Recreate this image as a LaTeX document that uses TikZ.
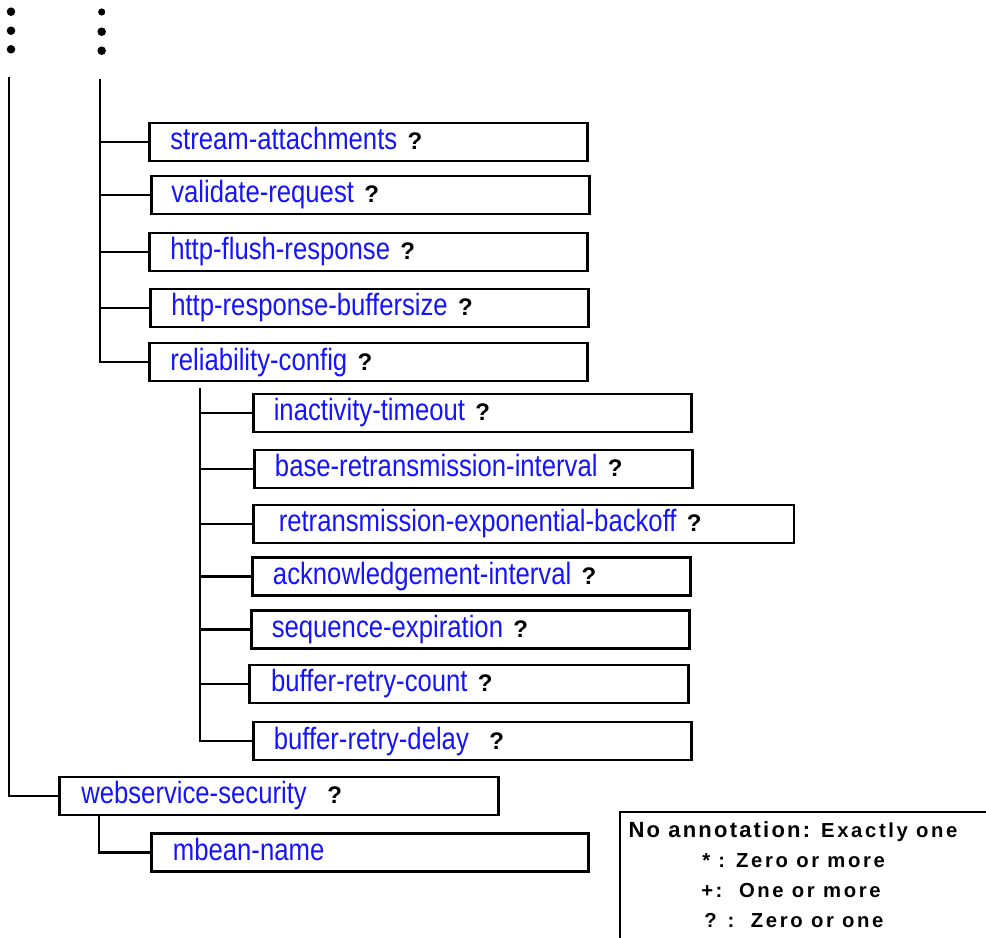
\documentclass[tikz,border=0pt]{standalone}
\usepackage{fontspec}
\setmainfont{Liberation Sans}
\newfontfamily\condfont[FakeStretch=0.834]{Liberation Sans}
\newfontfamily\legfont[LetterSpace=10]{Liberation Sans}
\newfontfamily\legwidefont[LetterSpace=13]{Liberation Sans}
\definecolor{elemblue}{RGB}{20,20,255}
% bold occurrence marker after an element name
\newcommand\optmark{{\color{black}\rmfamily\bfseries\fontsize{18pt}{18pt}\selectfont ?}}
\newcommand\legbig{\legfont\bfseries\fontsize{16.5pt}{18pt}\selectfont}
\newcommand\legsize{\legwidefont\bfseries\fontsize{15.2pt}{18pt}\selectfont}

\tikzset{
  box/.style={draw=black, line width=1.9pt, rectangle, minimum height=28.5pt,
    inner ysep=0pt, align=left, text=elemblue,
    font=\condfont\fontsize{23.1pt}{26pt}\selectfont,
    text height=15pt, text depth=3.3pt},
  conn/.style={draw=black, line width=1.9pt},
  legtext/.style={anchor=base west, inner sep=0pt, text=black, font=\legsize},
}

% element box: name, left x, centre y, right x, text start x, label
\newcommand\elemnode[6]{%
  \pgfmathsetmacro\elemw{(#4-#2-2*(#5-#2))*0.75}%
  \pgfmathsetmacro\elems{(#5-#2)*0.75}%
  \node[box, inner xsep=\elems pt, text width=\elemw pt, anchor=west] (#1) at (#2,#3) {#6};}

\begin{document}
\begin{tikzpicture}[x=0.75pt, y=-0.75pt]
\path[use as bounding box] (0,0) rectangle (986,938);

% continuation dots
\foreach \yy in {11.7,30.7,49.3} \fill (11,\yy) circle[radius=3.2pt];
\fill (101.7,12) circle[radius=2.7pt];
\foreach \yy in {31.7,50.7} \fill (101.7,\yy) circle[radius=3.2pt];

% second level
\elemnode{stream}{148}{141.8}{586}{169}{stream-attachments\ \optmark}
\elemnode{validate}{150}{194.9}{588}{170}{validate-request\ \optmark}
\elemnode{flush}{148}{252.2}{586}{169}{http-flush-response\ \optmark}
\elemnode{bufsize}{149}{308}{587}{170}{http-response-buffersize\ \optmark}
\elemnode{reliab}{148}{362.2}{586}{169}{reliability-config\ \optmark}

% reliability-config children
\elemnode{inact}{252}{413}{690}{272.5}{inactivity-timeout\ \optmark}
\elemnode{baseri}{253}{468.8}{691}{273.7}{base-retransmission-interval\ \optmark}
\elemnode{expback}{252}{524}{792.7}{277.5}{retransmission-exponential-backoff\ \optmark}
\elemnode{ackint}{251}{576.3}{689}{271.7}{acknowledgement-interval\ \optmark}
\elemnode{seqexp}{250}{629.3}{688}{270.5}{sequence-expiration\ \optmark}
\elemnode{bcount}{248}{684}{687}{269.8}{buffer-retry-count\ \optmark}
\elemnode{bdelay}{252}{741.2}{690}{272.5}{buffer-retry-delay\ \ \optmark}

% first level
\elemnode{websec}{58}{796}{497}{80}{webservice-security\ \ \optmark}
\elemnode{mbean}{150}{852.3}{587}{171.7}{mbean-name}

% spines
\coordinate (s1top) at (9,77);
\coordinate (s2top) at (100,79);
\coordinate (s3top) at (200,388);
\coordinate (s4top) at (99,815);

\draw[conn] (s1top) |- (websec.west);
\draw[conn] (s2top) |- (reliab.west);
\foreach \n in {stream,validate,flush,bufsize}
  \draw[conn] (s2top |- \n.west) -- (\n.west);
\draw[conn] (s3top) |- (bdelay.west);
\foreach \n in {inact,baseri,expback,ackint,seqexp,bcount}
  \draw[conn] (s3top |- \n.west) -- (\n.west);
\draw[conn] (s4top) |- (mbean.west);

% legend
\begin{scope}
  \clip (0,0) rectangle (986,938);
  \draw[line width=1.9pt] (620,812) rectangle (1010,960);
\end{scope}
\node[legtext] (leg1) at (628.3,837.5) {{\legbig No annotation:} Exactly one};
\node[legtext] (leg2) at (702,867.7) {* : Zero or more};
\node[legtext] (leg3) at (701,897.7) {+:\ \ One or more};
\node[legtext] (leg4) at (704,927.7) {? :\ \ Zero or one};
\end{tikzpicture}
\end{document}
